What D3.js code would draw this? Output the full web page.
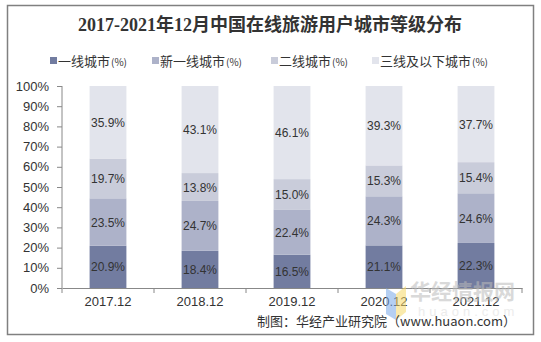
<!DOCTYPE html>
<html><head><meta charset="utf-8">
<script src="https://cdn.jsdelivr.net/npm/d3@7"></script>
<style>body{margin:0;background:#fff}svg{display:block}</style>
</head><body>
<svg id="c" width="541" height="342"></svg>
<script>
const categories = ["2017.12","2018.12","2019.12","2020.12","2021.12"];
const seriesNames = ["一线城市(%)","新一线城市(%)","二线城市(%)","三线及以下城市(%)"];
const tier1 = [20.9,18.4,16.5,21.1,22.3];
const newTier1 = [23.5,24.7,22.4,24.3,24.6];
const tier2 = [19.7,13.8,15.0,15.3,15.4];
const tier3plus = [35.9,43.1,46.1,39.3,37.7];
const yTicks = [0,10,20,30,40,50,60,70,80,90,100];
const colors = ["#727ca0","#adb2c9","#c9ccda","#e2e4ec"];

const svg = d3.select("#c");
svg.append("rect").attr("x",7.5).attr("y",5.5).attr("width",526).attr("height",329)
  .attr("fill","#fff").attr("stroke","#808080").attr("stroke-width",1.5);

svg.append("text").attr("x",270).attr("y",31).attr("text-anchor","middle")
  .attr("font-family","'Liberation Serif','Noto Sans CJK SC',serif").attr("font-weight","bold")
  .attr("font-size",18).attr("fill","#333").text("2017-2021年12月中国在线旅游用户城市等级分布");

// legend
const legX = [50,152,271,372];
seriesNames.forEach((n,i)=>{
  svg.append("rect").attr("x",legX[i]).attr("y",57).attr("width",7).attr("height",7).attr("fill",colors[i]);
  svg.append("text").attr("x",legX[i]+8).attr("y",66).attr("font-family","'Noto Sans CJK SC',sans-serif")
    .attr("font-size",13).attr("fill","#333").text(n.replace("(%)","")).append("tspan")
    .attr("font-size",10).attr("dx",1).text("(%)");
});

const x = d3.scaleBand().domain(categories).range([62,522]).paddingInner(0.6).paddingOuter(0.3);
const y = d3.scaleLinear().domain([0,100]).range([288,86]);

const data = categories.map((c,i)=>({cat:c, s0:tier1[i], s1:newTier1[i], s2:tier2[i], s3:tier3plus[i]}));
const stack = d3.stack().keys(["s0","s1","s2","s3"])(data);

stack.forEach((layer,li)=>{
  svg.append("g").selectAll("rect").data(layer).join("rect")
    .attr("x",d=>x(d.data.cat)).attr("width",x.bandwidth())
    .attr("y",d=>y(d[1])).attr("height",d=>y(d[0])-y(d[1])).attr("fill",colors[li]);
  svg.append("g").selectAll("text").data(layer).join("text")
    .attr("x",d=>x(d.data.cat)+x.bandwidth()/2).attr("y",d=>(y(d[0])+y(d[1]))/2+4.5)
    .attr("text-anchor","middle").attr("font-family","'Liberation Sans',Arial,sans-serif")
    .attr("font-size",12).attr("fill","#333").text(d=>(d[1]-d[0]).toFixed(1)+"%");
});

// y axis
const ya = svg.append("g").attr("transform","translate(62,0)")
  .call(d3.axisLeft(y).tickValues(yTicks).tickSize(5).tickFormat(d=>d+"%"));
ya.select(".domain").attr("stroke","#888").attr("d","M0,86V288");
ya.selectAll(".tick line").attr("stroke","#888");
ya.selectAll(".tick text").attr("font-family","'Liberation Sans',Arial,sans-serif").attr("font-size",13)
  .attr("fill","#333").attr("x",-13);

// x axis
const xa = svg.append("g").attr("transform","translate(0,288)")
  .call(d3.axisBottom(x).tickSize(0).tickPadding(9));
xa.select(".domain").attr("stroke","#888");
xa.selectAll(".tick text").attr("font-family","'Liberation Sans',Arial,sans-serif").attr("font-size",13).attr("fill","#333");
const step = x.step();
d3.range(categories.length+1).forEach(i=>{
  const xx = 62 + i*step;
  svg.append("line").attr("x1",xx).attr("x2",xx).attr("y1",288).attr("y2",293).attr("stroke","#888");
});

// watermark
const wm = svg.append("g").attr("opacity",0.55);
wm.append("path").attr("d","M386,288 L396,294 L396,320 L386,314 Z").attr("fill","#7aa8e8");
wm.append("path").attr("d","M396,294 L406,286 L406,312 L396,320 Z").attr("fill","#f7d96a");
wm.append("text").attr("x",410).attr("y",299).attr("font-family","'Noto Sans CJK SC',sans-serif")
  .attr("font-weight","bold").attr("font-size",21).attr("fill","#bbb").text("华经情报网");
wm.append("text").attr("x",418).attr("y",316).attr("font-family","'Liberation Sans',sans-serif")
  .attr("font-size",13).attr("letter-spacing",4).attr("fill","#ddd").text("huaon.com");

svg.append("text").attr("x",516).attr("y",326).attr("text-anchor","end")
  .attr("font-family","'Noto Sans CJK SC',sans-serif").attr("font-size",13).attr("fill","#333")
  .text("制图：华经产业研究院（www.huaon.com）");
</script>
</body></html>
